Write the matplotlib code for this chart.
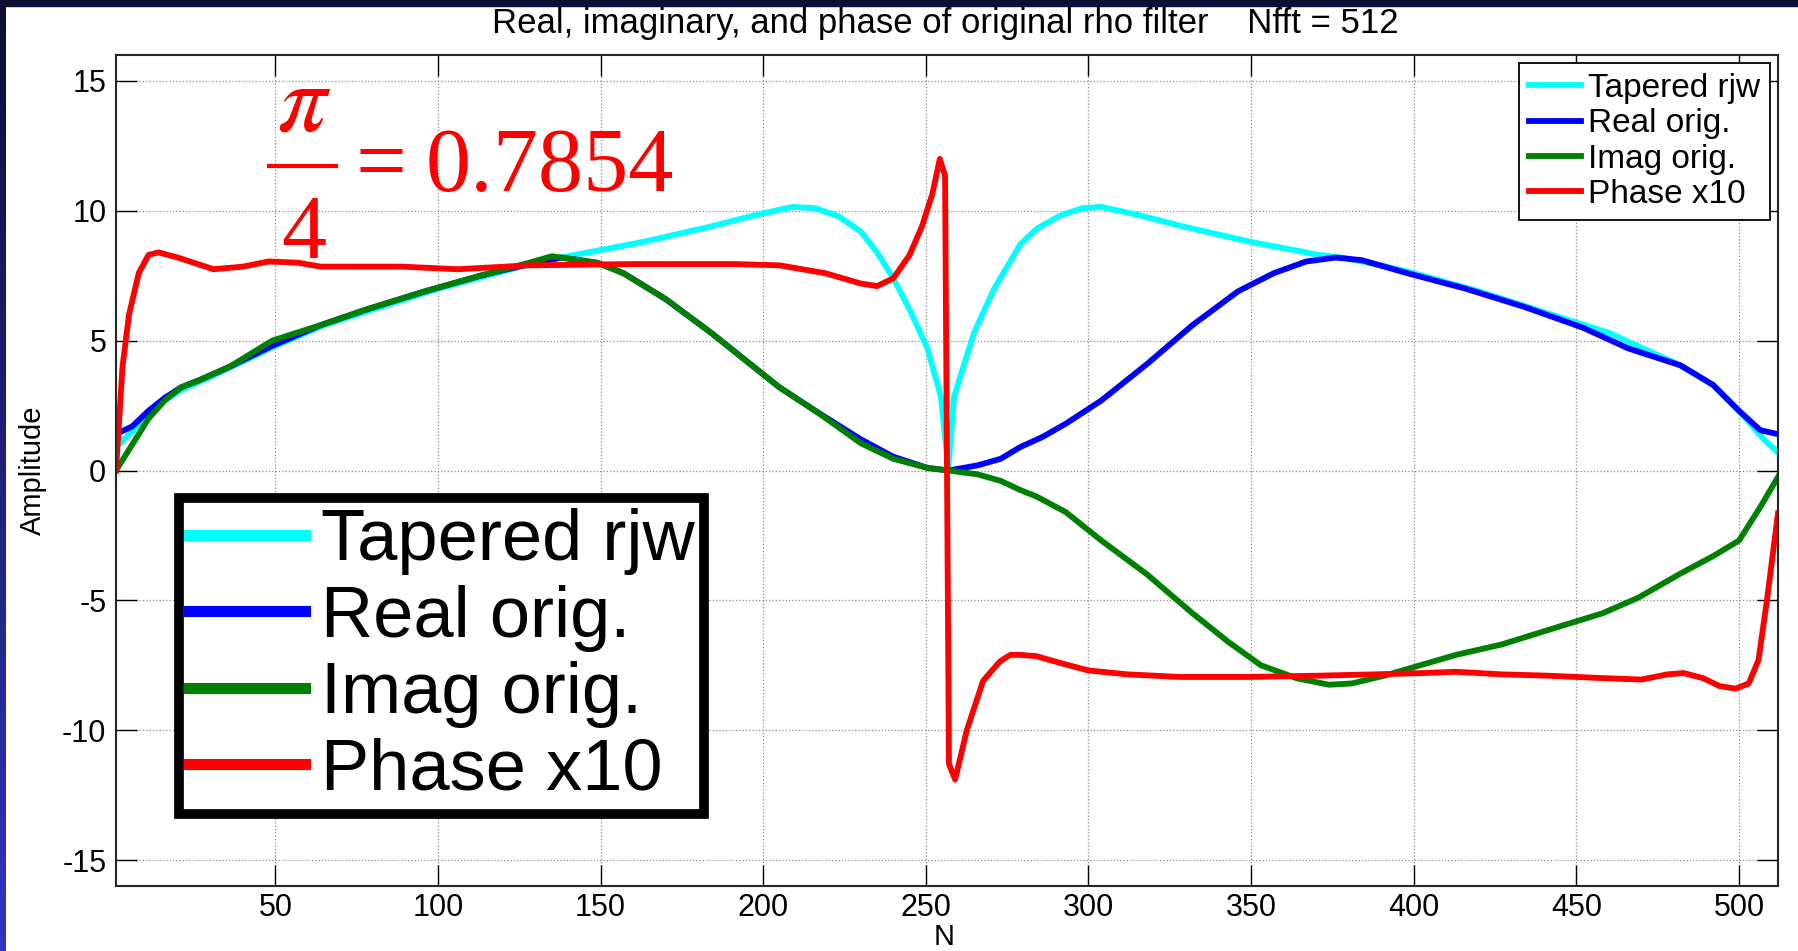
import numpy as np
import matplotlib
matplotlib.use("Agg")
import matplotlib.pyplot as plt
from matplotlib.patches import Rectangle
from matplotlib.lines import Line2D
from matplotlib.colors import LinearSegmentedColormap

plt.rcParams['font.family'] = 'Liberation Sans'

# Tapered rjw (cyan)
n_taper = [1, 6, 11, 16, 21, 30, 40, 50, 65, 80, 100, 115, 130, 142, 163, 184, 198, 209,
           216, 223, 230, 235, 240, 245, 250.5, 254.6, 256.9, 258.7, 260.8, 264.8, 271, 279,
           284, 291, 298, 304, 315, 329, 350, 371, 378, 390, 400, 420, 440, 460, 482, 492,
           500, 508, 512]
v_taper = [0.9, 1.5, 2.2, 2.7, 3.1, 3.6, 4.2, 4.8, 5.6, 6.2, 7.0, 7.5, 8.0, 8.3, 8.8, 9.4, 9.85, 10.15,
           10.1, 9.8, 9.2, 8.4, 7.4, 6.2, 4.7, 2.85, 0.1, 2.85, 3.7, 5.3, 7.0, 8.7,
           9.3, 9.8, 10.1, 10.15, 9.85, 9.4, 8.8, 8.3, 8.2, 7.9, 7.6, 6.9, 6.1, 5.3, 4.05, 3.3,
           2.3, 1.15, 0.7]

# Real orig. (blue)
n_real = [1, 6, 11, 16, 21, 27, 36, 49, 64, 78, 96, 113, 128, 138, 149, 157, 170, 184, 195,
          205, 216, 230, 240, 250.5, 257, 266, 273, 279, 286, 293, 304, 318, 332, 346, 357,
          367, 376, 384, 398, 416, 434, 452, 466, 482, 492, 500, 506.6, 512]
v_real = [1.4, 1.7, 2.3, 2.8, 3.2, 3.5, 4.0, 4.8, 5.6, 6.2, 6.9, 7.5, 7.95, 8.2, 8.0, 7.6, 6.6, 5.3, 4.2,
          3.2, 2.3, 1.2, 0.53, 0.1, 0.0, 0.2, 0.45, 0.9, 1.3, 1.8, 2.7, 4.1, 5.6, 6.9, 7.6,
          8.05, 8.2, 8.1, 7.6, 7.0, 6.3, 5.5, 4.7, 4.05, 3.3, 2.3, 1.55, 1.4]

# Imag orig. (green)
n_imag = [1, 6, 11, 16, 21, 27, 36, 49, 64, 78, 96, 113, 128, 135, 149, 157, 170, 184, 195,
          205, 216, 230, 240, 250.5, 257, 266, 273, 279, 284, 293, 304, 318, 332, 343, 353,
          364, 374, 381, 391, 402, 413, 427, 445, 458, 469, 482, 492, 500, 506.6, 512]
v_imag = [0.0, 1.0, 2.0, 2.7, 3.2, 3.5, 4.0, 5.0, 5.6, 6.2, 6.9, 7.5, 8.0, 8.25, 8.0, 7.6, 6.6, 5.3, 4.2,
          3.2, 2.3, 1.05, 0.45, 0.1, 0.0, -0.15, -0.4, -0.75, -1.0, -1.6, -2.7, -4.0, -5.5, -6.6, -7.5,
          -8.0, -8.25, -8.2, -7.9, -7.5, -7.1, -6.7, -6.0, -5.5, -4.9, -3.97, -3.3, -2.7, -1.4, -0.25]

# Phase x10 (red)
n_phase = [1, 3, 5, 8, 11, 14, 20, 31, 40, 48, 57, 64, 89, 106, 128, 160, 191, 205, 219,
           230, 235, 240, 245, 248.8, 252, 254.3, 255.9, 257.1, 259, 262.6, 267.6, 272.8, 276,
           279, 284, 291, 300, 312, 328, 349, 371, 388, 403, 413, 427, 441, 459, 470, 478,
           483, 489, 494, 499, 503, 506, 508.6, 512]
v_phase = [0.0, 4.0, 6.0, 7.6, 8.3, 8.4, 8.2, 7.75, 7.85, 8.05, 8.0, 7.85, 7.85, 7.75, 7.9, 7.95, 7.95, 7.9, 7.6,
           7.2, 7.1, 7.4, 8.3, 9.4, 10.65, 12.0, 11.35, -11.3, -11.9, -10.0, -8.1, -7.35, -7.1,
           -7.1, -7.15, -7.4, -7.7, -7.85, -7.95, -7.95, -7.9, -7.85, -7.8, -7.75, -7.85, -7.9, -8.0, -8.05, -7.85,
           -7.8, -8.0, -8.3, -8.4, -8.2, -7.3, -5.0, -1.65]

labels = ['Tapered rjw', 'Real orig.', 'Imag orig.', 'Phase x10']

W, H = 1798, 951
fig = plt.figure(figsize=(W/100, H/100), dpi=100)
fig.patch.set_facecolor('white')

ax = fig.add_axes([116/W, 1-886/H, (1778-116)/W, (886-55)/H])
lw = 4.2
ax.plot(n_taper, v_taper, color='cyan', lw=lw, label=labels[0])
ax.plot(n_real, v_real, color='blue', lw=lw, label=labels[1])
ax.plot(n_imag, v_imag, color='green', lw=lw, label=labels[2])
ax.plot(n_phase, v_phase, color='red', lw=lw, label=labels[3])

ax.set_xlim(1, 512)
ax.set_ylim(-16, 16)
ax.set_xticks(np.arange(50, 501, 50))
ax.set_yticks(np.arange(-15, 16, 5))
ax.set_yticklabels(['-15', '-10', '-5', '0', '5', '10', '15'])
ax.grid(True, linestyle=':', color='0.55', lw=0.9)
ax.tick_params(direction='in', length=15, width=1, top=True, right=True,
               labelsize=22, pad=7)
ax.tick_params(axis='x', pad=5)
for s in ax.spines.values():
    s.set_linewidth(1.5)
    s.set_color('0.15')

ax.set_ylabel('Amplitude', fontsize=21, va='center')
ax.yaxis.set_label_coords((33-116)/(1778-116), 0.5)
fig.text(944/W, 1-945/H, 'N', ha='center', va='baseline', fontsize=21)

fig.text(945/W, 1-23/H, 'Real, imaginary, and phase of original rho filter    Nfft = 512',
         ha='center', va='center', fontsize=25)

# small legend (top right)
leg1 = ax.legend(loc='upper right', bbox_to_anchor=(1770/W, 1-63/H),
                 bbox_transform=fig.transFigure, fontsize=24, fancybox=False,
                 framealpha=1, edgecolor='black', borderaxespad=0,
                 handlelength=1.55, handletextpad=0.22, labelspacing=0.13,
                 borderpad=0.3)
leg1.get_frame().set_linewidth(1.3)
ax.add_artist(leg1)

# big pasted legend
leg2 = ax.legend(loc='upper left', bbox_to_anchor=(179/W, 1-498/H),
                 bbox_transform=fig.transFigure, fontsize=52, fancybox=False,
                 framealpha=1, edgecolor='black', borderaxespad=0,
                 handlelength=1.6, handletextpad=0.22, labelspacing=0.13,
                 borderpad=0.14)
leg2.get_frame().set_linewidth(7)
for ln in leg2.get_lines():
    ln.set_linewidth(8)

# formula pi/4 = 0.7854
fig.text(304/W, 1-131/H, r'$\pi$', ha='center', va='baseline',
         fontsize=70, color='red', math_fontfamily='stix')
fig.add_artist(Line2D([269/W, 336/W], [1-166/H, 1-166/H], transform=fig.transFigure,
                      color='red', lw=3))
fig.text(304/W, 1-258/H, '4', ha='center', va='baseline',
         fontsize=65, color='red', family='Liberation Serif')
fig.text(356/W, 1-191/H, '=', ha='left', va='baseline',
         fontsize=65, color='red', family='Liberation Serif')
fig.text(426/W, 1-191/H, '0.7854', ha='left', va='baseline',
         fontsize=65, color='red', family='Liberation Serif')

# slide borders
bax = fig.add_axes([0, 0, 6/W, 1])
grad = np.linspace(0, 1, 256).reshape(-1, 1)
cm = LinearSegmentedColormap.from_list('b', ['#0e0e36', '#3232c4'])
bax.imshow(grad, aspect='auto', cmap=cm, extent=[0, 1, 1, 0])
bax.axis('off')
fig.add_artist(Rectangle((0, 1-6/H), 1, 6/H, transform=fig.transFigure,
                         color='#0e0e32', zorder=10))

fig.savefig('out.png', dpi=100)
